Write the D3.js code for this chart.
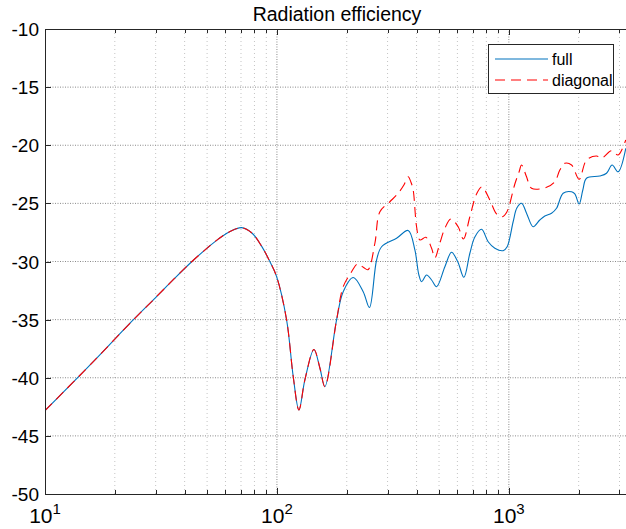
<!DOCTYPE html>
<html><head><meta charset="utf-8">
<script src="https://cdn.jsdelivr.net/npm/d3@7"></script>
<style>body{margin:0;background:#fff} svg{display:block} text{font-family:"Liberation Sans",Arial,Helvetica,sans-serif;fill:#000}</style>
</head><body><svg id="c" width="626" height="529"></svg>
<script>
// ---- data ----
const chartTitle = "Radiation efficiency";
const seriesNames = ["full", "diagonal"];
const sharedFreq = [10, 16, 24.0, 30, 36, 42.9, 50, 56, 62, 70.4, 78, 86, 93.3, 99.7, 110.1, 117.6, 124.4, 132.0, 144.4, 153.2, 161.0, 180.8];
const sharedDb   = [-42.83, -38.7, -35.03, -33.1, -31.5, -30.02, -28.85, -28.05, -27.48, -27.09, -27.55, -28.7, -30.02, -31.3, -35.03, -39.91, -42.77, -40.19, -37.57, -39.16, -40.77, -35.03];
const fullFreq = [193.1, 213.3, 235.5, 250.5, 269.0, 282.7, 328.1, 368.1, 393.4, 409.4, 420.5, 441.9, 464.4, 488.0, 529.9, 566.2, 602.8, 639.8, 679.1, 713.6, 762.6, 814.4, 870.3, 944.9, 983.3, 1043.6, 1082.7, 1134.3, 1195.6, 1272.5, 1360, 1429.6, 1528, 1605.6, 1714.5, 1863.8, 1925.6, 2009.5, 2084.5, 2162.3, 2467, 2637, 2787.9, 2958, 3193];
const fullDb   = [-32.6, -31.38, -32.6, -33.96, -29.87, -28.73, -28.0, -27.33, -29.01, -31.16, -31.74, -31.16, -31.59, -32.17, -30.45, -29.21, -30.04, -31.36, -29.29, -27.89, -27.23, -28.3, -28.86, -29.07, -28.73, -26.58, -25.4, -24.99, -25.91, -27.01, -26.43, -26.09, -25.85, -25.42, -24.13, -24.0, -24.19, -25.05, -23.85, -22.84, -22.65, -22.41, -21.7, -22.28, -20.26];
const diagFreq = [193.1, 209.9, 223.0, 235.9, 247.0, 264.5, 278, 306.9, 333.3, 352.7, 368.1, 378.1, 386.8, 400.1, 413.4, 438.7, 464.4, 479.8, 504.2, 529.9, 562.3, 604.6, 636.7, 679.1, 725.8, 764.9, 828.2, 885.1, 937.6, 980.4, 1061.4, 1107.6, 1134.3, 1192, 1252.6, 1454, 1578.7, 1659, 1743.4, 1863.8, 2009.5, 2162.3, 2387.8, 2509, 2771, 2958, 3193];
const diagDb   = [-32.17, -30.88, -30.2, -30.5, -30.7, -28.43, -25.72, -24.86, -24.13, -23.42, -22.71, -23.16, -23.85, -27.01, -28.15, -27.92, -28.86, -29.7, -28.41, -27.14, -26.34, -27.01, -28.06, -26.15, -24.19, -23.59, -24.71, -25.91, -26.15, -25.74, -23.33, -22.28, -21.7, -22.71, -23.7, -23.62, -23.14, -22.13, -21.55, -21.7, -22.93, -21.27, -20.92, -21.12, -20.47, -20.84, -19.55];
const yTicks = [-50, -45, -40, -35, -30, -25, -20, -15, -10];
const xMajor = [10, 100, 1000];
const xMajorExp = ["1", "2", "3"];
const xMinor = [20, 30, 40, 50, 60, 70, 80, 90, 200, 300, 400, 500, 600, 700, 800, 900, 2000, 3000];
const xDomain = [10, 3200];
const yDomain = [-50, -10];

// ---- layout ----
const L = 45, T = 29, R = 626, B = 494;
const svg = d3.select("#c");
const x = d3.scaleLog().domain(xDomain).range([L, R]);
const y = d3.scaleLinear().domain(yDomain).range([B, T]);

// grid
const g = svg.append("g");
g.selectAll(".gxm").data(xMinor).enter().append("line")
  .attr("x1", d => x(d)).attr("x2", d => x(d)).attr("y1", T).attr("y2", B)
  .attr("stroke", "#c4c4c4").attr("stroke-width", 1).attr("stroke-dasharray", "1,3");
g.selectAll(".gxM").data(xMajor.slice(1)).enter().append("line")
  .attr("x1", d => x(d)).attr("x2", d => x(d)).attr("y1", T).attr("y2", B)
  .attr("stroke", "#8a8a8a").attr("stroke-width", 1).attr("stroke-dasharray", "1,1.5");
g.selectAll(".gy").data(yTicks.slice(1, -1)).enter().append("line")
  .attr("x1", L).attr("x2", R).attr("y1", d => y(d)).attr("y2", d => y(d))
  .attr("stroke", "#8a8a8a").attr("stroke-width", 1).attr("stroke-dasharray", "1,1.5");

// curves
svg.append("clipPath").attr("id", "clip").append("rect").attr("x", L).attr("y", T).attr("width", R - L).attr("height", B - T);
const line = d3.line().x(d => x(d[0])).y(d => y(d[1])).curve(d3.curveCatmullRom.alpha(0.5));
const fullData = sharedFreq.map((f, i) => [f, sharedDb[i]]).concat(fullFreq.map((f, i) => [f, fullDb[i]]));
const diagData = sharedFreq.map((f, i) => [f, sharedDb[i]]).concat(diagFreq.map((f, i) => [f, diagDb[i]]));
const cg = svg.append("g").attr("clip-path", "url(#clip)");
cg.append("path").attr("d", line(fullData)).attr("fill", "none").attr("stroke", "#0072BD").attr("stroke-width", 1.1);
cg.append("path").attr("d", line(diagData)).attr("fill", "none").attr("stroke", "#FF0000").attr("stroke-width", 1.1).attr("stroke-dasharray", "10,6");

// axes box
const ax = svg.append("g").attr("stroke", "#262626").attr("stroke-width", 1).attr("shape-rendering", "crispEdges");
ax.append("line").attr("x1", L).attr("x2", R).attr("y1", B + 0.5).attr("y2", B + 0.5);
ax.append("line").attr("x1", L).attr("x2", R).attr("y1", T + 0.5).attr("y2", T + 0.5);
ax.append("line").attr("x1", L + 0.5).attr("x2", L + 0.5).attr("y1", T).attr("y2", B);
// ticks
yTicks.forEach(v => {
  ax.append("line").attr("x1", L).attr("x2", L + 6).attr("y1", Math.round(y(v)) + 0.5).attr("y2", Math.round(y(v)) + 0.5);
});
xMajor.concat(xMinor).forEach(v => {
  const len = xMajor.includes(v) ? 6 : 4;
  const px = Math.round(x(v)) + 0.5;
  ax.append("line").attr("x1", px).attr("x2", px).attr("y1", B).attr("y2", B - len);
  ax.append("line").attr("x1", px).attr("x2", px).attr("y1", T).attr("y2", T + len);
});

// labels
yTicks.forEach(v => {
  svg.append("text").attr("x", 39).attr("y", y(v) + 7).attr("text-anchor", "end")
    .attr("font-size", 19).text(v);
});
xMajor.forEach((v, i) => {
  const t = svg.append("text").attr("x", x(v)).attr("y", 523).attr("text-anchor", "middle").attr("font-size", 21);
  t.append("tspan").text("10");
  t.append("tspan").attr("dy", -9).attr("font-size", 15).text(xMajorExp[i]);
});
svg.append("text").attr("x", 337).attr("y", 21).attr("text-anchor", "middle").attr("font-size", 19.5).text(chartTitle);

// legend
const lg = svg.append("g");
lg.append("rect").attr("x", 488.5).attr("y", 44.5).attr("width", 125).attr("height", 49)
  .attr("fill", "#fff").attr("stroke", "#262626").attr("stroke-width", 1);
const colors = ["#0072BD", "#FF0000"];
const dashes = [null, "10,6"];
seriesNames.forEach((n, i) => {
  const yy = 59 + i * 21;
  lg.append("line").attr("x1", 495).attr("x2", 548).attr("y1", yy).attr("y2", yy)
    .attr("stroke", colors[i]).attr("stroke-width", 1.1).attr("stroke-dasharray", dashes[i]);
  lg.append("text").attr("x", 552).attr("y", yy + 6).attr("font-size", 16).text(n);
});
</script></body></html>
